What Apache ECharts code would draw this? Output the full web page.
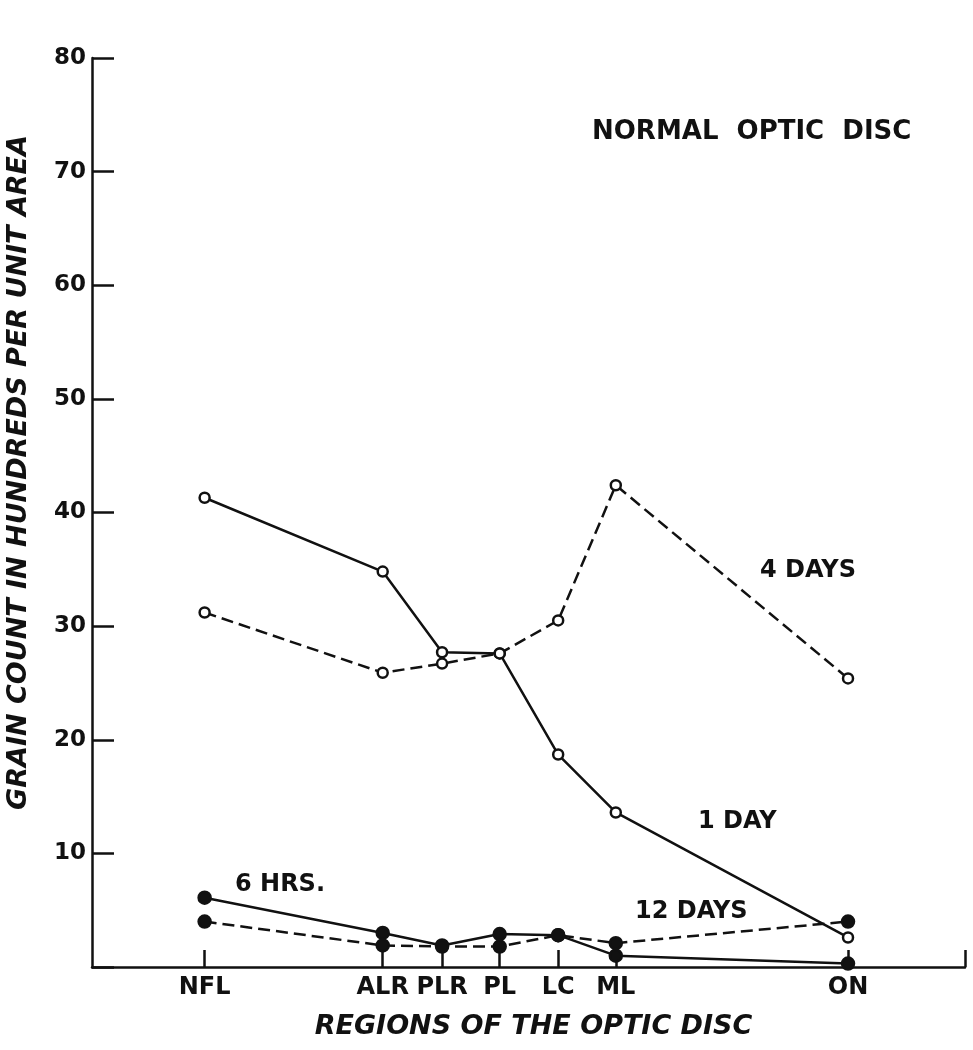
<!DOCTYPE html>
<html>
<head>
<meta charset="utf-8">
<script src="https://cdn.jsdelivr.net/npm/echarts@6/dist/echarts.min.js"></script>
<style>
  html, body { margin: 0; padding: 0; background: #fff; }
  #chart { width: 973px; height: 1050px; }
</style>
</head>
<body>
<div id="chart"></div>
<script>
// regions along the disc (x positions as drawn on the original, 0-100 scale)
const regions = ["NFL", "ALR", "PLR", "PL", "LC", "ML", "ON"];
const regionPos = [12.9, 33.3, 40.1, 46.7, 53.4, 60.0, 86.6];

// grain count, hundreds per unit area
const hrs6 = [6.1, 3.0, 1.9, 2.9, 2.8, 1.0, 0.3];
const day1 = [41.3, 34.8, 27.7, 27.6, 18.7, 13.6, 2.6];
const days4 = [31.2, 25.9, 26.7, 27.6, 30.5, 42.4, 25.4];
const days12 = [4.0, 1.9, 1.8, 1.8, 2.8, 2.1, 4.0];

const FONT = "DejaVu Sans";
const INK = "#111";

function pairs(vals) {
  return vals.map((v, i) => [regionPos[i], v]);
}

function lineSeries(name, vals, dashed, filled) {
  return {
    name: name,
    type: "line",
    data: pairs(vals),
    symbol: "circle",
    symbolSize: filled ? 12 : 10,
    showAllSymbol: true,
    lineStyle: { color: INK, width: 2.5, type: dashed ? [12, 6] : "solid" },
    itemStyle: {
      color: filled ? INK : "#fff",
      borderColor: INK,
      borderWidth: 2.5
    },
    z: filled ? 3 : 4
  };
}

function note(text, x, y, size) {
  return {
    type: "text", x: x, y: y,
    style: { text: text, font: "bold " + size + "px " + FONT, fill: INK, verticalAlign: "middle" }
  };
}

const chart = echarts.init(document.getElementById("chart"));

const option = {
  backgroundColor: "#fff",
  animation: false,
  grid: { left: 92, right: 8, top: 58, bottom: 83, outerBoundsMode: "none" },
  xAxis: {
    type: "value",
    min: 0,
    max: 100,
    name: "REGIONS OF THE OPTIC DISC",
    nameLocation: "middle",
    nameGap: 46,
    nameTextStyle: {
      fontFamily: FONT, fontSize: 27, fontWeight: "bold", fontStyle: "italic", color: INK,
      padding: [0, 0, 0, 10]
    },
    axisLine: { lineStyle: { color: INK, width: 2.5 } },
    axisTick: {
      inside: true, length: 17,
      customValues: regionPos.concat([100]),
      lineStyle: { color: INK, width: 2.5 }
    },
    axisLabel: {
      customValues: regionPos,
      margin: 9,
      fontFamily: FONT, fontSize: 24, fontWeight: "bold", color: INK,
      formatter: function (v) {
        let best = 0;
        regionPos.forEach((p, i) => {
          if (Math.abs(p - v) < Math.abs(regionPos[best] - v)) best = i;
        });
        return regions[best];
      }
    },
    splitLine: { show: false }
  },
  yAxis: {
    type: "value",
    min: 0,
    max: 80,
    interval: 10,
    name: "GRAIN COUNT IN HUNDREDS PER UNIT AREA",
    nameLocation: "middle",
    nameGap: 60,
    nameRotate: 90,
    nameTextStyle: {
      fontFamily: FONT, fontSize: 27, fontWeight: "bold", fontStyle: "italic", color: INK,
      padding: [0, 0, 0, 80]
    },
    axisLine: { show: true, lineStyle: { color: INK, width: 2.5 } },
    axisTick: { show: true, inside: true, length: 22, lineStyle: { color: INK, width: 2.5 } },
    axisLabel: {
      margin: 6,
      fontFamily: FONT, fontSize: 23, fontWeight: "bold", color: INK,
      formatter: v => (v === 0 ? "" : String(v))
    },
    splitLine: { show: false }
  },
  graphic: [
    note("NORMAL  OPTIC  DISC", 592, 132, 26),
    note("4 DAYS", 760, 571, 24),
    note("1 DAY", 698, 822, 24),
    note("12 DAYS", 635, 912, 24),
    note("6 HRS.", 235, 885, 24)
  ],
  series: [
    lineSeries("6 HRS.", hrs6, false, true),
    lineSeries("12 DAYS", days12, true, true),
    lineSeries("1 DAY", day1, false, false),
    lineSeries("4 DAYS", days4, true, false)
  ]
};

chart.setOption(option);
</script>
</body>
</html>
